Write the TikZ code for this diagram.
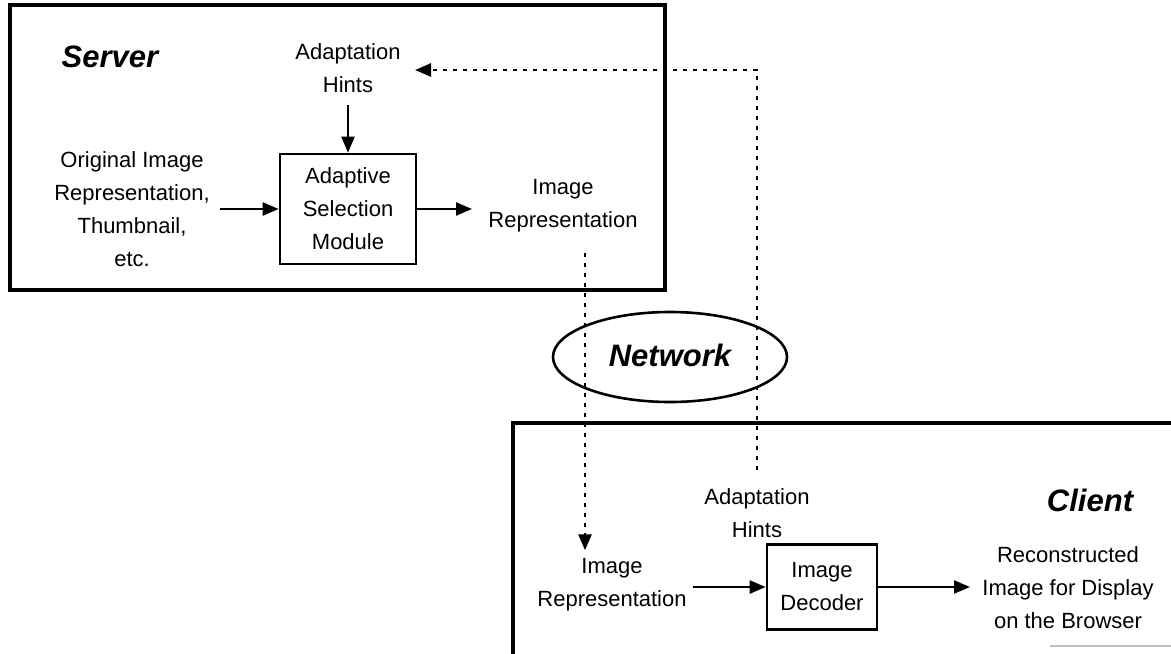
\documentclass[tikz,border=0pt]{standalone}
\usepackage{fontspec}
\setmainfont{Liberation Sans}
\usetikzlibrary{arrows.meta,shapes.geometric}
\begin{document}
\begin{tikzpicture}[x=0.5pt,y=-0.5pt,
  every node/.style={font=\fontsize{11}{16.5}\selectfont, align=center, inner sep=2pt},
  title/.style={font=\fontsize{15.5}{18}\selectfont\bfseries\itshape},
  frame/.style={draw, line width=1.6pt},
  block/.style={draw, line width=1.3pt, inner sep=0pt},
  flow/.style={line width=1.2pt, -{Triangle[length=8pt,width=6.5pt]}},
  dots/.style={line width=1.4pt, dash pattern=on 2pt off 3pt, -{Triangle[length=8pt,width=6.5pt]}}]
\useasboundingbox (0,0) rectangle (1171,653);

% server frame
\draw[frame] (10,5) rectangle (665,290);
% client frame, running past the edge of the page
\draw[frame] (1190,423) -- (513,423) -- (513,670);
\draw[line width=1pt, black!25] (1050,646) -- (1171,646);

% server side
\node[title] (server) at (110,57) {Server};
\node (hints) at (348,68) {Adaptation\\Hints};
\node[block, minimum width=68pt, minimum height=55pt] (asm) at (348,209) {Adaptive\\Selection\\Module};
\node (orig) at (132,209) {Original Image\\Representation,\\Thumbnail,\\etc.};
\node (imgs) at (563,206) {Image\\Representation};

% network
\node[ellipse, draw, line width=1.3pt, minimum width=117pt, minimum height=45pt] (net) at (670,357) {};
\node[title] (netlabel) at (670,355) {Network};

% client side
\node (hintc) at (757,513) {Adaptation\\Hints};
\node[title] (client) at (1090,500) {Client};
\node (imgc) at (612,585) {Image\\Representation};
\node[block, minimum width=55pt, minimum height=42.5pt] (dec) at (822,587) {Image\\Decoder};
\node (recon) at (1068,588) {Reconstructed\\Image for Display\\on the Browser};

\coordinate (down) at (585,0);
\coordinate (turn) at (757,70);

% connectors
\draw[flow, shorten <=4pt] (hints.south) -- (asm.north);
\draw[flow, shorten <=3pt] (orig.east |- asm.west) -- (asm.west);
\draw[flow, shorten >=6pt] (asm.east) -- (asm.east -| imgs.west);
\draw[flow, shorten <=1pt] (imgc.east |- dec.west) -- (dec.west);
\draw[flow, shorten >=4pt] (dec.east) -- (dec.east -| recon.west);
\draw[dots] ([yshift=-8pt]imgs.south -| down) -- ([yshift=2pt]imgc.north -| down);
\draw[dots, shorten <=7pt, shorten >=5pt] (hintc.north) -- (turn) -- (turn -| hints.east);
\end{tikzpicture}
\end{document}
